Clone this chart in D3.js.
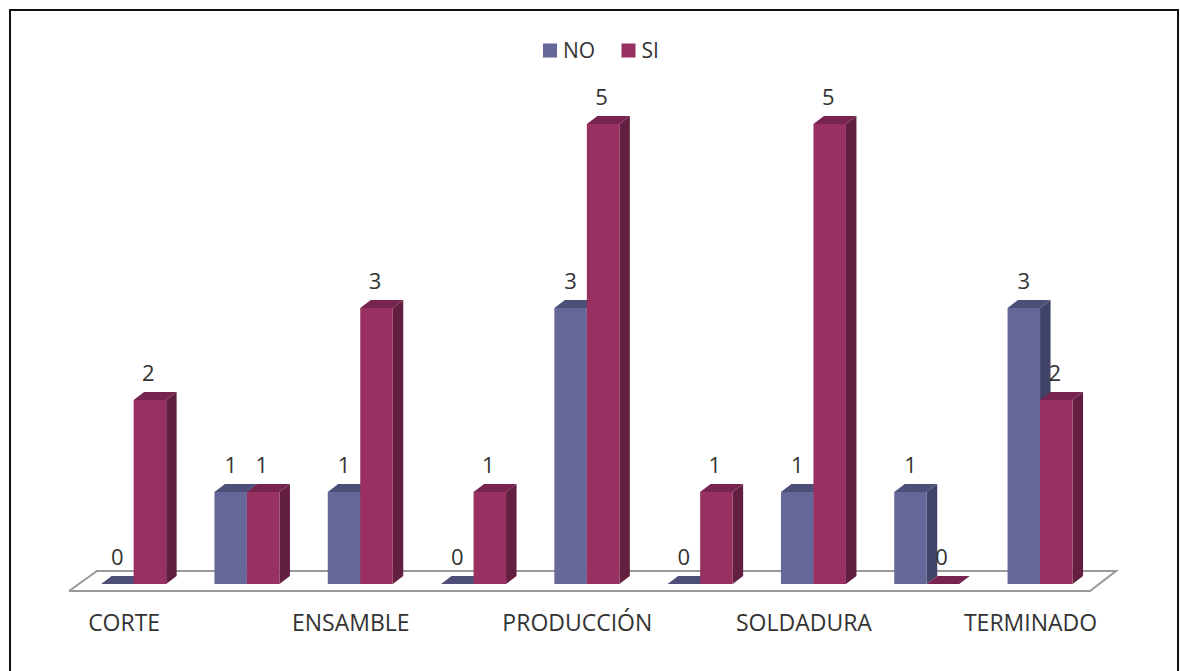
<!DOCTYPE html>
<html>
<head>
<meta charset="utf-8">
<script src="https://cdn.jsdelivr.net/npm/d3@7/dist/d3.min.js"></script>
<style>
html,body{margin:0;padding:0;background:#fff;overflow:hidden;}
svg{display:block;}
text{font-family:"Open Sans","Noto Sans",sans-serif;fill:#333;}
</style>
</head>
<body>
<svg id="chart" width="1180" height="671"></svg>
<script>
const categories = ["CORTE","c2","ENSAMBLE","c4","PRODUCCIÓN","c6","SOLDADURA","c8","TERMINADO"];
const shownLabels = ["CORTE","ENSAMBLE","PRODUCCIÓN","SOLDADURA","TERMINADO"];
const seriesNames = ["NO","SI"];
const noValues = [0,1,1,0,3,0,1,1,3];
const siValues = [2,1,3,1,5,1,5,0,2];
const palette = {
  NO:{front:"#656799",top:"#4d4f78",side:"#404268"},
  SI:{front:"#993062",top:"#772550",side:"#631f40"}
};

const depthX = 10.5, depthY = 8;
const svg = d3.select("#chart");

// chart frame: the bottom edge runs past the page
svg.append("rect").attr("x",10).attr("y",10).attr("width",1168).attr("height",700)
  .attr("fill","#fff").attr("stroke","#111").attr("stroke-width",2);

const x = d3.scaleBand().domain(categories).range([77,1096.7]);
const groupWidth = 65;
const inner = d3.scaleBand().domain(seriesNames)
  .range([(x.bandwidth()-groupWidth)/2,(x.bandwidth()+groupWidth)/2]);
const y = d3.scaleLinear().domain([0,5]).range([584,124]);

// floor of the 3D plot
const floor = d3.line()([[69,591],[1090,591],[1116,571],[97,571],[69,591]]);
svg.append("path").attr("d",floor).attr("fill","#fff").attr("stroke","#999").attr("stroke-width",2);

const rows = categories.flatMap((c,i)=>[
  {cat:c,name:"NO",value:noValues[i]},
  {cat:c,name:"SI",value:siValues[i]}
]);

const bars = svg.append("g").selectAll("g").data(rows).join("g")
  .attr("transform",d=>`translate(${x(d.cat)+inner(d.name)},0)`);
const bw = inner.bandwidth();

// side faces first, so the next bar's front covers them
bars.append("path").attr("fill",d=>palette[d.name].side)
  .attr("d",d=>d3.line()([[bw,y(d.value)],[bw+depthX,y(d.value)-depthY],[bw+depthX,y(0)-depthY],[bw,y(0)]]));
bars.append("path").attr("fill",d=>palette[d.name].top)
  .attr("d",d=>d3.line()([[0,y(d.value)],[depthX,y(d.value)-depthY],[bw+depthX,y(d.value)-depthY],[bw,y(d.value)]]));
bars.append("rect").attr("fill",d=>palette[d.name].front)
  .attr("x",0).attr("width",bw).attr("y",d=>y(d.value)).attr("height",d=>y(0)-y(d.value));

// value labels
const labelNudge = {NO:0,SI:-1.5};
svg.append("g").selectAll("text").data(rows).join("text")
  .attr("x",d=>x(d.cat)+inner(d.name)+bw/2+labelNudge[d.name])
  .attr("y",d=>y(d.value)-19.5)
  .attr("text-anchor","middle").attr("font-size",22)
  .text(d=>d.value);

// category labels, shown on every other slot
svg.append("g").selectAll("text").data(shownLabels).join("text")
  .attr("x",d=>x(d)+x.bandwidth()/2-9.5)
  .attr("y",631).attr("text-anchor","middle").attr("font-size",23)
  .text(d=>d);

// legend
const legendX = {NO:543,SI:621.5};
const legend = svg.append("g").selectAll("g").data(seriesNames).join("g")
  .attr("transform",d=>`translate(${legendX[d]},43.5)`);
legend.append("rect").attr("width",14).attr("height",14).attr("fill",d=>palette[d].front);
legend.append("text").attr("x",20).attr("y",14).attr("font-size",21).text(d=>d);
</script>
</body>
</html>
